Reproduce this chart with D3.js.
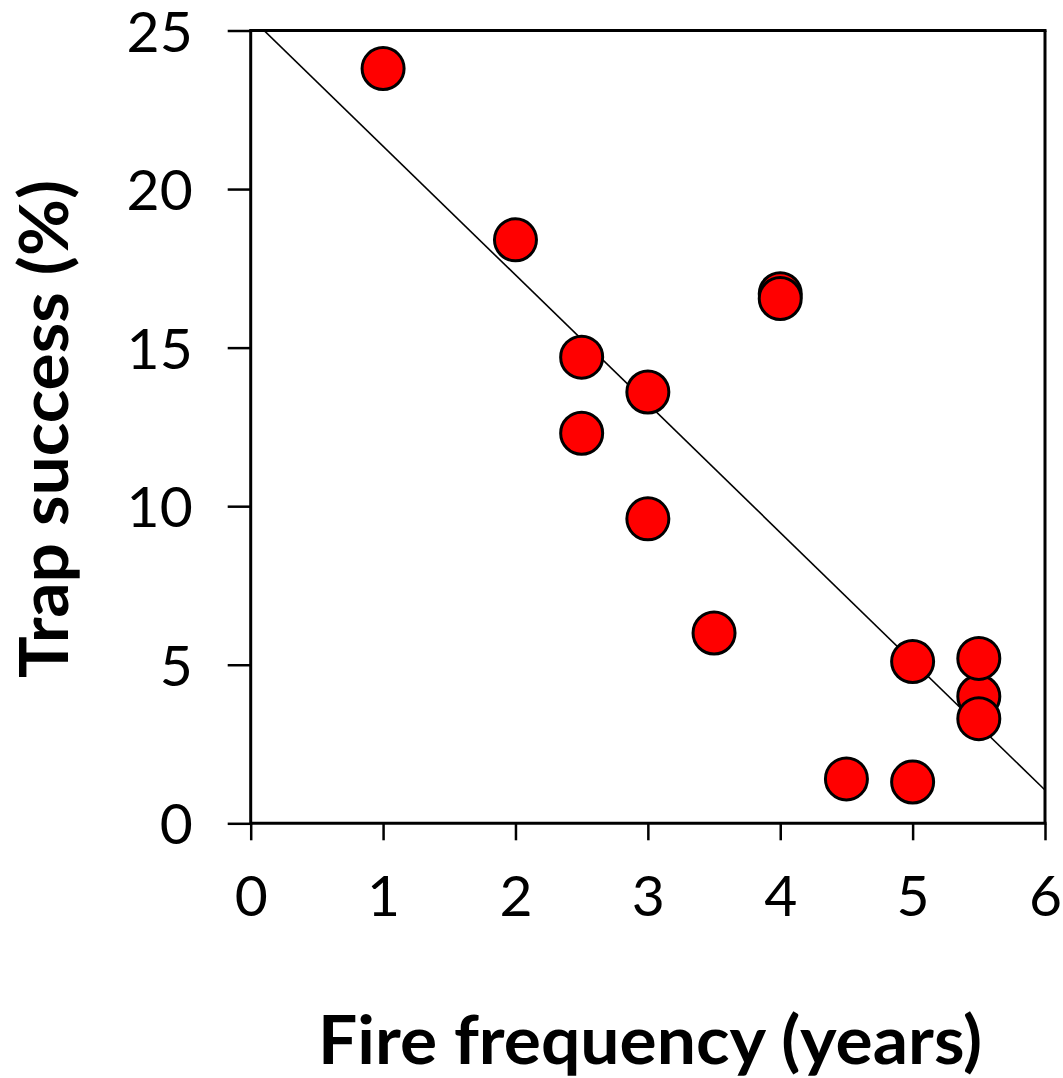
<!DOCTYPE html>
<html><head><meta charset="utf-8">
<script src="https://cdn.jsdelivr.net/npm/d3@7"></script>
<style>html,body{margin:0;padding:0;background:#fff;}svg{display:block;}</style>
</head><body>
<script>
// Data
const fireFrequency = [1, 2, 2.5, 2.5, 3, 3, 3.5, 4, 4, 4.5, 5, 5, 5.5, 5.5, 5.5];
const trapSuccess   = [23.8, 18.4, 14.7, 12.3, 13.6, 9.6, 6.0, 16.7, 16.55, 1.4, 5.1, 1.3, 4.0, 5.2, 3.3];
const xTicks = [0, 1, 2, 3, 4, 5, 6];
const yTicks = [0, 5, 10, 15, 20, 25];
const fitIntercept = 25.41;
const fitSlope = -4.06;
const xTitle = "Fire frequency (years)";
const yTitle = "Trap success (%)";

const W = 1063, H = 1078;
const L = 250.7, R = 1045, T = 30.5, B = 823.3;
const svg = d3.select("body").append("svg").attr("width", W).attr("height", H);
const x = d3.scaleLinear().domain([0, 6]).range([L, R]);
const y = d3.scaleLinear().domain([0, 25]).range([B, T]);
const font = "Lato, 'Open Sans', sans-serif";

// Clip
svg.append("clipPath").attr("id", "plot").append("rect")
  .attr("x", L).attr("y", T).attr("width", R - L).attr("height", B - T);

// Regression line
const fx = [0, 6];
svg.append("line")
  .attr("clip-path", "url(#plot)")
  .attr("x1", x(fx[0])).attr("y1", y(fitIntercept + fitSlope * fx[0]))
  .attr("x2", x(fx[1])).attr("y2", y(fitIntercept + fitSlope * fx[1]))
  .attr("stroke", "#000").attr("stroke-width", 1.6);

// Box top & right
svg.append("line").attr("x1", L).attr("x2", R + 1.5).attr("y1", T).attr("y2", T)
  .attr("stroke", "#000").attr("stroke-width", 3);
svg.append("line").attr("x1", R).attr("x2", R).attr("y1", T).attr("y2", B)
  .attr("stroke", "#000").attr("stroke-width", 3);

// Axes
const xAxis = d3.axisBottom(x).tickValues(xTicks).tickSize(17).tickPadding(32).tickFormat(d3.format("d"));
const yAxis = d3.axisLeft(y).tickValues(yTicks).tickSize(23).tickPadding(35).tickFormat(d3.format("d"));
const gx = svg.append("g").attr("transform", `translate(0,${B})`).call(xAxis);
const gy = svg.append("g").attr("transform", `translate(${L},0)`).call(yAxis);
[gx, gy].forEach(g => {
  g.select(".domain").attr("stroke", "#000").attr("stroke-width", 3);
  g.selectAll(".tick line").attr("stroke", "#000").attr("stroke-width", 2.5);
  g.selectAll(".tick text").attr("font-family", font).attr("font-size", 57).attr("fill", "#000");
});
gx.select(".domain").attr("d", `M${L},0H${R + 1.5}`);
gy.select(".domain").attr("d", `M0,${B + 1.5}V${T - 1.5}`);
gx.selectAll(".tick text").attr("dy", "0.71em").attr("y", 52).attr("dominant-baseline", null);
gy.selectAll(".tick text").attr("dy", "0.36em");

// Points
const pts = fireFrequency.map((f, i) => ({ f, t: trapSuccess[i] }));
svg.append("g").selectAll("circle").data(pts).join("circle")
  .attr("cx", d => x(d.f)).attr("cy", d => y(d.t)).attr("r", 21)
  .attr("fill", "#ff0000").attr("stroke", "#000").attr("stroke-width", 3);

// Titles
svg.append("text").attr("x", 650).attr("y", 1064).attr("text-anchor", "middle")
  .attr("font-family", font).attr("font-weight", "bold").attr("font-size", 66)
  .attr("textLength", 664).attr("lengthAdjust", "spacingAndGlyphs").text(xTitle);
svg.append("text").attr("transform", "translate(68,429) rotate(-90)").attr("text-anchor", "middle")
  .attr("font-family", font).attr("font-weight", "bold").attr("font-size", 66)
  .attr("textLength", 498).attr("lengthAdjust", "spacingAndGlyphs").text(yTitle);
</script>
</body></html>
